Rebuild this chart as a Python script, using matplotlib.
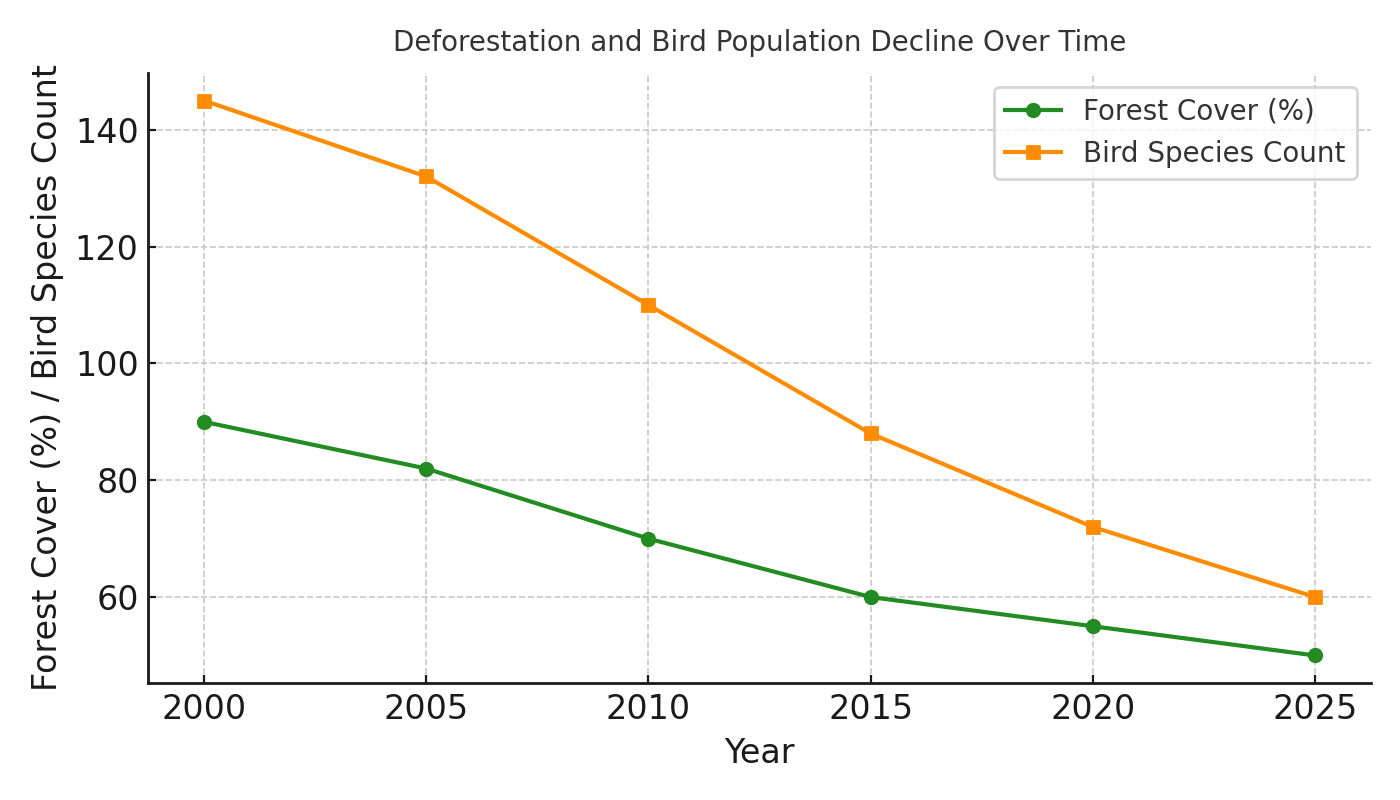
import matplotlib
matplotlib.use("Agg")
import matplotlib.pyplot as plt

years = [2000, 2005, 2010, 2015, 2020, 2025]
forest_cover = [90, 82, 70, 60, 55, 50]
bird_species = [145, 132, 110, 88, 72, 60]

plt.rcParams['font.family'] = ['DejaVu Sans']
plt.rcParams['text.color'] = '#262626'
plt.rcParams['axes.labelcolor'] = '#1a1a1a'
plt.rcParams['xtick.color'] = '#1a1a1a'
plt.rcParams['ytick.color'] = '#1a1a1a'
fig, ax = plt.subplots(figsize=(7, 4), dpi=200)
ax.plot(years, forest_cover, marker='o', color='forestgreen', linewidth=1.5, markersize=4.5, label='Forest Cover (%)')
ax.plot(years, bird_species, marker='s', color='darkorange', linewidth=1.5, markersize=4.5, label='Bird Species Count')
ax.set_title('Deforestation and Bird Population Decline Over Time', fontsize=10, color='#333333', pad=8)
ax.set_xlabel('Year', fontsize=12)
ax.set_ylabel('Forest Cover (%) / Bird Species Count', fontsize=12)
ax.tick_params(labelsize=12, length=3, width=0.8, direction='in', colors='#1a1a1a')
ax.grid(True, linestyle='--', linewidth=0.6, color='#c8c8c8')
ax.spines['top'].set_visible(False)
ax.spines['right'].set_visible(False)
for s in ('left', 'bottom'):
    ax.spines[s].set_color('#1a1a1a')
    ax.spines[s].set_linewidth(1.0)
leg = ax.legend(fontsize=10, loc='upper right')
for t in leg.get_texts():
    t.set_color('#333333')
fig.subplots_adjust(left=0.106, right=0.979, top=0.909, bottom=0.146)
fig.savefig('out.png')
